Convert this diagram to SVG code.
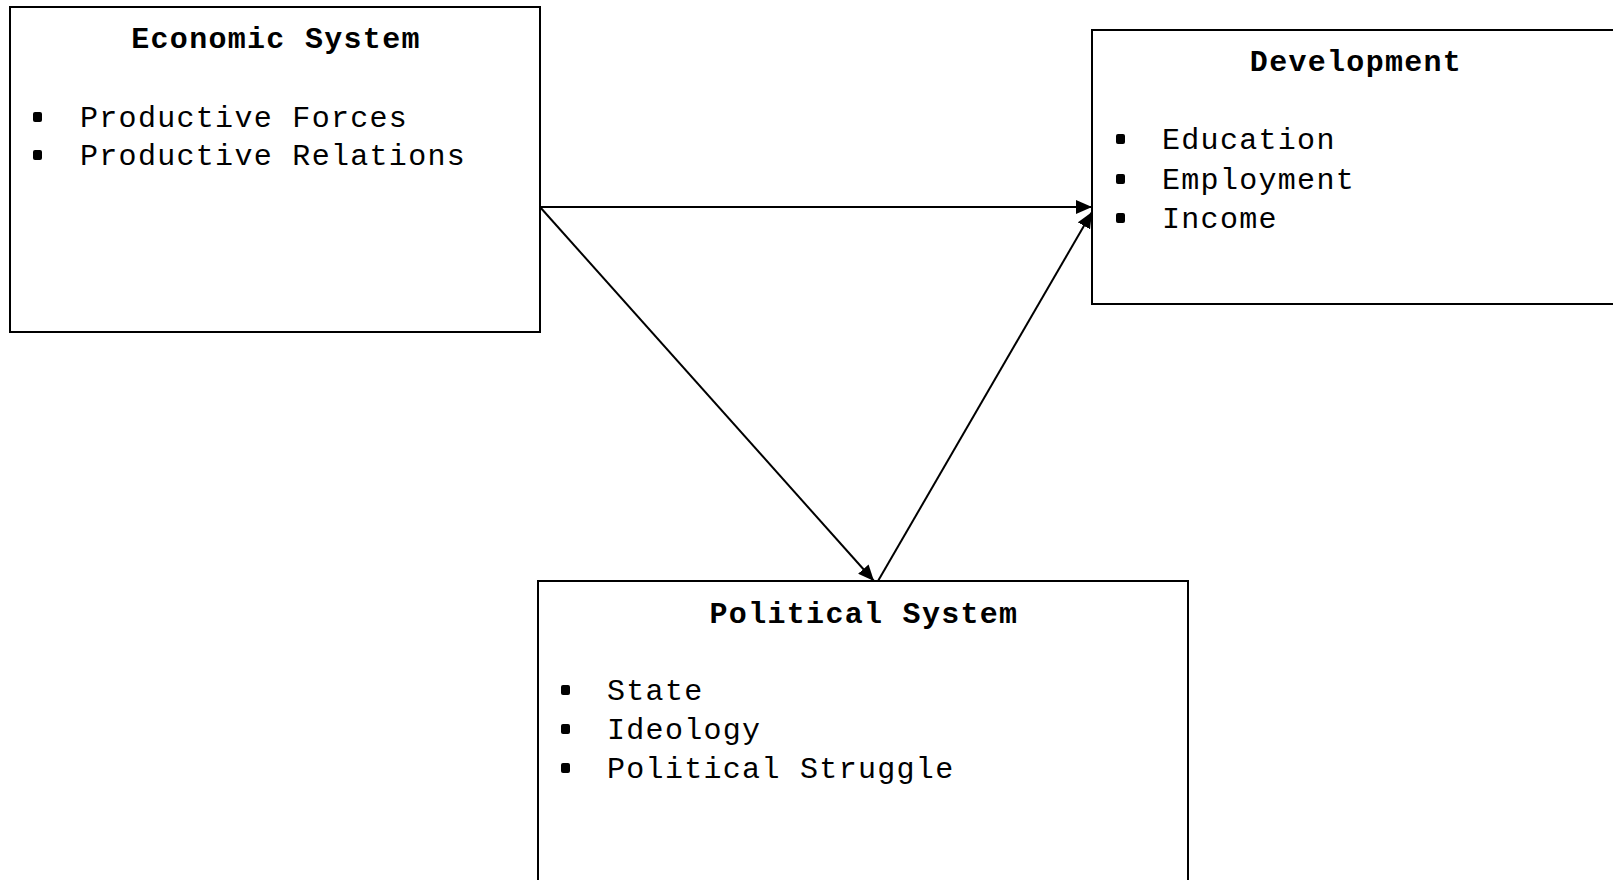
<svg xmlns="http://www.w3.org/2000/svg" width="1613" height="880" viewBox="0 0 1613 880">
<style>
.box{fill:#fff;stroke:#000;stroke-width:2}
.t{font-family:"Liberation Mono","Courier New",monospace;font-size:30px;letter-spacing:1.3px;fill:#000}
.h{font-weight:bold;text-anchor:middle}
.b{fill:#000}
.c{stroke:#000;stroke-width:2;fill:none}
</style>
<defs>
<marker id="ah" markerUnits="userSpaceOnUse" markerWidth="18" markerHeight="14" refX="16" refY="7" orient="auto">
<path d="M0,0 L16,7 L0,14 Z" fill="#000"/>
</marker>
</defs>
<rect width="1613" height="880" fill="#fff"/>
<g id="economic">
<rect class="box" x="10" y="7" width="530" height="325"/>
<text class="t h" x="276" y="48">Economic System</text>
<rect class="b" x="33" y="112" width="9" height="10" rx="2"/>
<text class="t" x="80" y="127">Productive Forces</text>
<rect class="b" x="33" y="150" width="9" height="10" rx="2"/>
<text class="t" x="80" y="165">Productive Relations</text>
</g>
<g id="development">
<rect class="box" x="1092" y="30" width="540" height="274"/>
<text class="t h" x="1356" y="71">Development</text>
<rect class="b" x="1116" y="134" width="9" height="10" rx="2"/>
<text class="t" x="1162" y="149">Education</text>
<rect class="b" x="1116" y="174" width="9" height="10" rx="2"/>
<text class="t" x="1162" y="189">Employment</text>
<rect class="b" x="1116" y="213" width="9" height="10" rx="2"/>
<text class="t" x="1162" y="228">Income</text>
</g>
<g id="political">
<rect class="box" x="538" y="581" width="650" height="312"/>
<text class="t h" x="864" y="623">Political System</text>
<rect class="b" x="561" y="685" width="9" height="10" rx="2"/>
<text class="t" x="607" y="700">State</text>
<rect class="b" x="561" y="724" width="9" height="10" rx="2"/>
<text class="t" x="607" y="739">Ideology</text>
<rect class="b" x="561" y="763" width="9" height="10" rx="2"/>
<text class="t" x="607" y="778">Political Struggle</text>
</g>
<g id="connectors">
<line class="c" x1="540" y1="207" x2="1092" y2="207" marker-end="url(#ah)"/>
<line class="c" x1="540" y1="207" x2="874" y2="581" marker-end="url(#ah)"/>
<line class="c" x1="878" y1="581" x2="1092" y2="212" marker-end="url(#ah)"/>
</g>
</svg>
